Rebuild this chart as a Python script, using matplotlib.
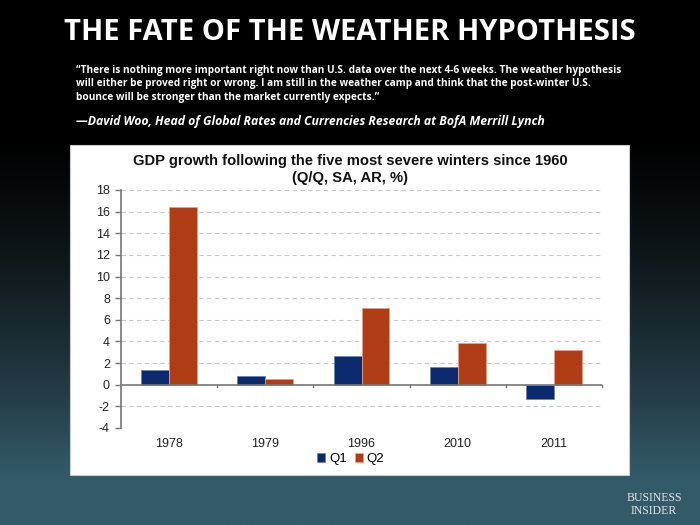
import numpy as np
import matplotlib
matplotlib.use('Agg')
import matplotlib.pyplot as plt
from matplotlib.patches import Rectangle
from matplotlib.colors import LinearSegmentedColormap

# ---- data ----
years = ['1978', '1979', '1996', '2010', '2011']
q1 = [1.4, 0.8, 2.7, 1.6, -1.3]
q2 = [16.4, 0.5, 7.1, 3.9, 3.2]
yticks = [-4, -2, 0, 2, 4, 6, 8, 10, 12, 14, 16, 18]

Q1_COLOR = '#0b2a6e'
Q2_COLOR = '#b03c15'

fig = plt.figure(figsize=(7, 5.25), dpi=100)

# background gradient (black -> dark teal)
bg = fig.add_axes([0, 0, 1, 1], zorder=-10)
cmap = LinearSegmentedColormap.from_list('bg', [(0, '#000000'), (0.27, '#000000'),
                                                (0.48, '#0e1518'), (0.74, '#243a44'),
                                                (0.91, '#335a68'), (1, '#345b69')])
grad = np.linspace(0, 1, 256).reshape(-1, 1)
bg.imshow(grad, aspect='auto', cmap=cmap, extent=[0, 1, 1, 0])
bg.set_xlim(0, 1)
bg.set_ylim(1, 0)
bg.axis('off')

# white chart panel
fig.patches.append(Rectangle((70 / 700, 1 - 475 / 525), 559 / 700, 330 / 525,
                             transform=fig.transFigure, facecolor='white',
                             edgecolor='#cccccc', linewidth=0.8, zorder=-5))

# slide title and quote
fig.text(0.5, 1 - 33 / 525, 'THE FATE OF THE WEATHER HYPOTHESIS', color='white',
         fontsize=21, fontweight='bold', family='Open Sans', ha='center', va='center')
quote = ('\u201cThere is nothing more important right now than U.S. data over the next 4-6 weeks. The weather hypothesis\n'
         'will either be proved right or wrong. I am still in the weather camp and think that the post-winter U.S.\n'
         'bounce will be stronger than the market currently expects.\u201d')
fig.text(76 / 700, 1 - 65 / 525, quote, color='white', fontsize=7.3, fontweight='bold',
         family='Open Sans', ha='left', va='top', linespacing=1.3)
fig.text(76 / 700, 1 - 121 / 525,
         '\u2014David Woo, Head of Global Rates and Currencies Research at BofA Merrill Lynch',
         color='white', fontsize=8.8, fontweight='bold', style='italic', family='Open Sans',
         ha='left', va='center')

# Business Insider logo
fig.text(654 / 700, 1 - 498 / 525, 'BUSINESS', color='#e0e6e9', fontsize=8.5,
         family='Liberation Serif', ha='center', va='center')
fig.text(654 / 700, 1 - 511 / 525, 'INSIDER', color='#e0e6e9', fontsize=8.5,
         family='Liberation Serif', ha='center', va='center')

# chart
ax = fig.add_axes([121 / 700, 1 - 428 / 525, 481 / 700, 238 / 525])
x = np.arange(len(years))
w = 0.29
ax.bar(x - w / 2, q1, w, color=Q1_COLOR, edgecolor='#6d85b5', linewidth=0.6, label='Q1', zorder=3)
ax.bar(x + w / 2, q2, w, color=Q2_COLOR, edgecolor='#e8a08a', linewidth=0.6, label='Q2', zorder=3)

ax.set_xlim(-0.5, len(years) - 0.5)
ax.set_ylim(-4, 18)
ax.set_yticks(yticks)
ax.set_yticklabels([str(t) for t in yticks], fontsize=9, family='Liberation Sans', color='#222222')
for t in yticks:
    if t != 0:
        ax.axhline(t, color='#c8c8c8', linestyle=(0, (4, 3)), linewidth=0.8, zorder=1)
ax.axhline(0, color='#777777', linewidth=1.2, zorder=4)
for s in np.arange(0.5, len(years) - 0.5 + 0.01, 1.0):
    ax.plot([s, s], [0, -0.25], color='#777777', linewidth=1, zorder=4, clip_on=False)

ax.set_xticks(x)
ax.set_xticklabels(years, fontsize=9, family='Liberation Sans', color='#222222')
ax.tick_params(axis='x', length=0, pad=7)
ax.tick_params(axis='y', length=4, color='#777777', width=1, pad=4)
for side in ['top', 'right', 'bottom']:
    ax.spines[side].set_visible(False)
ax.spines['left'].set_color('#777777')
ax.spines['left'].set_linewidth(1.2)
ax.set_facecolor('white')

ax.set_title('GDP growth following the five most severe winters since 1960\n(Q/Q, SA, AR, %)',
             fontsize=10.6, fontweight='bold', family='Liberation Sans', color='#111111',
             pad=6, linespacing=1.2, x=0.476)

leg = ax.legend(loc='upper center', bbox_to_anchor=(0.478, -0.055), ncol=2, frameon=False,
                handlelength=0.6, handleheight=0.6, handletextpad=0.3,
                columnspacing=0.6, prop={'family': 'Liberation Sans', 'size': 9.5})

fig.savefig('out.png', dpi=100)
